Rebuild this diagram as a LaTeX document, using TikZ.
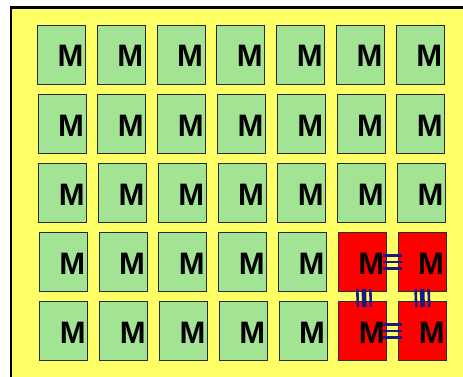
\documentclass[tikz,border=0pt]{standalone}
\usepackage{fontspec}
\setmainfont{Liberation Sans}
\usepackage{tikz}
\usetikzlibrary{positioning, calc}
\usepackage{xcolor}
\definecolor{meshYellow}{HTML}{FFFF66}
\definecolor{meshGreen}{HTML}{A2E494}
\definecolor{meshRed}{HTML}{FF0000}
\definecolor{meshNavy}{HTML}{1A1A86}
\definecolor{meshEdge}{HTML}{2A2A2A}

\begin{document}
\begin{tikzpicture}[x=1pt, y=-1pt,
    cell/.style={draw=meshEdge, line width=1pt, fill=meshGreen, inner sep=0pt,
      minimum width=48pt, minimum height=59pt, anchor=north west},
    hot/.style={cell, fill=meshRed},
    lbl/.style={font=\fontsize{31}{31}\selectfont\bfseries, inner sep=0pt, anchor=base},
    link/.style={draw=meshNavy, line width=2.6pt},
    linkw/.style={draw=meshNavy, line width=4.6pt}]
  \useasboundingbox (0,0) rectangle (463,377);
  % background board
  \fill[meshYellow] (11,8) rectangle (463,377);
  \draw[line width=2.5pt] (11,377) -- (11,7.5) -- (463,7.5);
  % grid of modules
  \foreach \r in {0,...,4} {
    \foreach \c in {0,...,6} {
      \pgfmathsetmacro{\xx}{37+0.6*\r+59.8*\c}
      \pgfmathsetmacro{\yy}{25+69*\r}
      \node[cell] (m\r\c) at (\xx,\yy) {};
      \node[lbl] (t\r\c) at ($(m\r\c.north west)+(33.5,42)$) {M};
    }
  }
  % red modules
  \foreach \r/\c in {3/5, 3/6, 4/5, 4/6} {
    \node[hot] at (m\r\c.north west) {};
    \node[lbl] at ($(m\r\c.north west)+(33.5,42)$) {M};
  }
  % horizontal links
  \foreach \r in {3,4} {
    \foreach \dy/\w in {-6.5/link, 0/link, 6.5/link} {
      \draw[\w] ($(m\r5.east)+(-4,\dy)$) -- ($(m\r6.west)+(4,\dy)$);
    }
  }
  % vertical links
  \foreach \c/\sx in {5/1.5, 6/0} {
    \foreach \dx/\w in {-6.5/link, 0/linkw, 6.5/link} {
      \draw[\w] ($(m3\c.south)+(\sx+\dx,-3)$) -- ($(m4\c.north)+(\sx+\dx,6)$);
    }
  }
\end{tikzpicture}
\end{document}
